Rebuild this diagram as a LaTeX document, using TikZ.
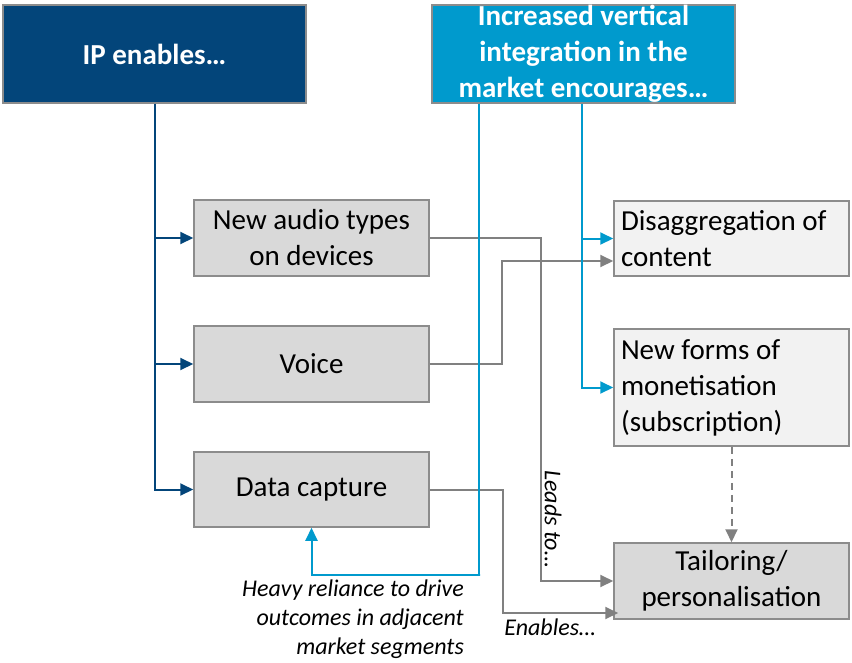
\documentclass[tikz,border=0pt]{standalone}
\usepackage{fontspec}
\setmainfont{Carlito}
\usetikzlibrary{arrows.meta}
\definecolor{ipblue}{HTML}{03457A}
\definecolor{vtblue}{HTML}{009ACD}
\definecolor{boxgrey}{HTML}{D9D9D9}
\definecolor{boxlight}{HTML}{F2F2F2}
\definecolor{edgegrey}{HTML}{8C8C8C}
\definecolor{linkgrey}{HTML}{808080}

\begin{document}
\begin{tikzpicture}[x=1pt,y=-1pt,
  box/.style={draw=edgegrey, line width=1.5pt, minimum width=235pt, inner sep=0pt,
    font=\fontsize{29}{36}\selectfont, text=black, align=center},
  headbox/.style={draw=edgegrey, line width=1.5pt, minimum width=303pt, minimum height=98pt,
    inner sep=0pt, font=\bfseries\fontsize{29}{36}\selectfont, text=white, align=center},
  rightbox/.style={box, fill=boxlight, text width=221pt, inner xsep=7pt, align=flush left},
  ipline/.style={draw=ipblue, line width=2pt, -{Triangle[length=13pt,width=12pt]}},
  vtline/.style={draw=vtblue, line width=2pt, -{Triangle[length=13pt,width=12pt]}},
  greyline/.style={draw=linkgrey, line width=2pt, -{Triangle[length=13pt,width=12pt]}},
  note/.style={font=\itshape\fontsize{24}{29}\selectfont, text=black, inner sep=0pt},
]
\useasboundingbox (0,0) rectangle (852,662);

% header boxes
\node[headbox, fill=ipblue] (ip) at (154.5,54) {IP enables…};
\node[headbox, fill=vtblue] (vi) at (583.5,54) {Increased vertical\\integration in the\\market encourages…};

% left column
\node[box, fill=boxgrey, minimum height=76pt] (audio) at (311.5,238) {New audio types\\on devices};
\node[box, fill=boxgrey, minimum height=76pt] (voice) at (311.5,364) {Voice};
\node[box, fill=boxgrey, minimum height=75pt] (data) at (311.5,489.5) {Data capture};

% right column
\node[rightbox, minimum height=75pt] (disagg) at (731.5,238.5) {Disaggregation of\\content};
\node[rightbox, minimum height=117pt] (newforms) at (731.5,387.5) {New forms of\\monetisation\\(subscription)};
\node[box, fill=boxgrey, minimum height=76pt] (tailor) at (731.5,581) {Tailoring/\\personalisation};

% routing points
\coordinate (loop) at (480,575);
\coordinate (leadx) at (541,0);
\coordinate (voicex) at (502,0);
\coordinate (datax) at (503,0);
\coordinate (disaggin) at ([yshift=-22.5pt]disagg.west);
\coordinate (tailorin) at ([xshift=5pt,yshift=-32pt]tailor.west);

% grey links
\draw[greyline] (audio.east) -| (leadx |- tailor.west) -- (tailor.west);
\draw[greyline] (voice.east) -| (voicex |- disaggin) -- (disaggin);
\draw[greyline] (data.east) -| (datax |- tailorin) -- (tailorin);
\draw[greyline, dashed, dash pattern=on 7pt off 5pt] (newforms.south) -- (tailor.north);

% IP enables branches
\draw[ipline] (ip.south) |- (audio.west);
\draw[ipline] (ip.south) |- (voice.west);
\draw[ipline] (ip.south) |- (data.west);

% vertical integration branches
\draw[vtline] ([xshift=48pt]vi.south west) |- (loop) -| (data.south);
\draw[vtline] ([xshift=151pt]vi.south west) |- (disagg.west);
\draw[vtline] ([xshift=151pt]vi.south west) |- (newforms.west);

% labels
\node[note, rotate=-90] (leads) at (553,519) {Leads to…};
\node[note, anchor=east, align=right] (heavy) at (464,619) {Heavy reliance to drive\\outcomes in adjacent\\market segments};
\node[note] (enables) at (550,627) {Enables…};
\end{tikzpicture}
\end{document}
